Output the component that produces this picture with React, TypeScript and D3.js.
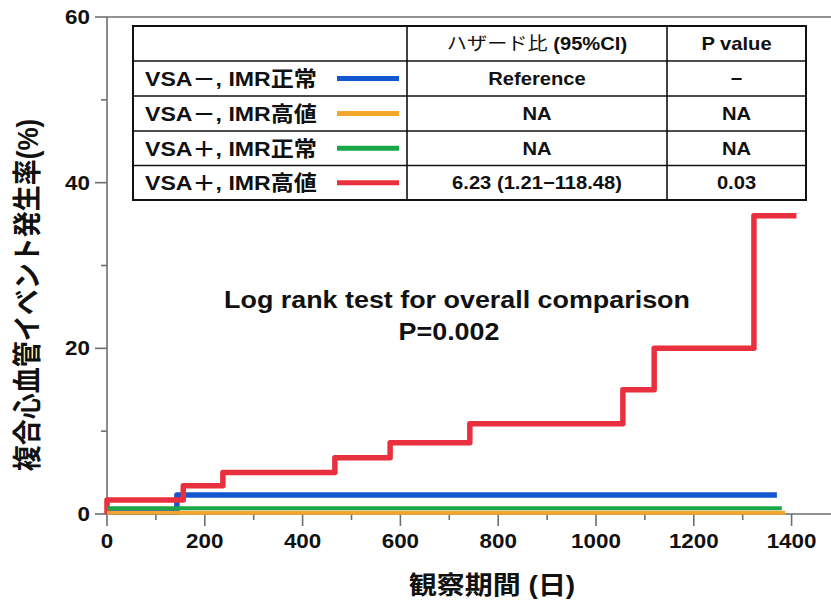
import React from "react";
import * as d3 from "d3";

const xTicks = [0, 200, 400, 600, 800, 1000, 1200, 1400];
const xMinor = [100, 300, 500, 700, 900, 1100, 1300];
const yTicks = [0, 20, 40, 60];
const yMinor = [10, 30, 50];

const redTimes = [0, 0, 156, 237, 466, 579, 742, 1055, 1119, 1323, 1410];
const redValues = [0, 1.7, 3.4, 5.0, 6.8, 8.6, 10.9, 15.0, 20.0, 36.0, 36.0];
const blueTimes = [0, 143, 1370];
const blueValues = [0.2, 2.3, 2.3];
const greenTimes = [0, 1380];
const greenValues = [0.7, 0.7];
const orangeTimes = [0, 1387];
const orangeValues = [0.15, 0.15];

const groupLabels = ["VSA－, IMR正常", "VSA－, IMR高値", "VSA＋, IMR正常", "VSA＋, IMR高値"];
const groupColors = ["#1257D0", "#F2A62C", "#1BA648", "#E8303F"];
const hazardRatios = ["Reference", "NA", "NA", "6.23 (1.21−118.48)"];
const pValues = ["−", "NA", "NA", "0.03"];

const FONT = "'Liberation Sans', Arial, 'Noto Sans CJK JP', sans-serif";
const SX = 1.12;

function T({ x, y, anchor = "middle", size = 20, weight = 700, children, sx = SX }: any) {
  return (
    <g transform={`translate(${x},${y}) scale(${sx},1)`}>
      <text textAnchor={anchor} fontSize={size} fontWeight={weight} fontFamily={FONT} fill="#111">
        {children}
      </text>
    </g>
  );
}

export default function App() {
  const W = 831, H = 601;
  const x = d3.scaleLinear().domain([0, 1480]).range([107, 830.7]);
  const y = d3.scaleLinear().domain([0, 60]).range([514, 17]);
  const line = d3
    .line<[number, number]>()
    .x((d) => x(d[0]))
    .y((d) => y(d[1]))
    .curve(d3.curveStepAfter);
  const mk = (t: number[], v: number[]) => line(t.map((ti, i) => [ti, v[i]] as [number, number])) || "";

  const series = [
    { t: blueTimes, v: blueValues, c: groupColors[0], w: 5.5 },
    { t: redTimes, v: redValues, c: groupColors[3], w: 5.5 },
    { t: greenTimes, v: greenValues, c: groupColors[2], w: 4 },
    { t: orangeTimes, v: orangeValues, c: groupColors[1], w: 4 },
  ];

  const tL = 133, tR = 806, tT = 26, tB = 200;
  const colX = [tL, 407, 667, tR];
  const rowY = [26, 61, 96, 131, 165.5, 200];
  const axisColor = "#6e6e6e";

  return (
    <svg width={W} height={H} style={{ position: "absolute", left: 0, top: 0, background: "#fff" }}>
      <rect width={W} height={H} fill="#fff" />
      <line x1={107} x2={831} y1={514} y2={514} stroke={axisColor} strokeWidth={1.6} />
      <line x1={107} x2={107} y1={17} y2={514} stroke={axisColor} strokeWidth={1.6} />
      <line x1={107} x2={831} y1={17} y2={17} stroke={axisColor} strokeWidth={1.6} />
      {xTicks.map((t) => (
        <g key={"xt" + t}>
          <line x1={x(t)} x2={x(t)} y1={514} y2={526} stroke={axisColor} strokeWidth={1.6} />
          <T x={x(t)} y={548} size={20}>{t}</T>
        </g>
      ))}
      {xMinor.map((t) => (
        <line key={"xm" + t} x1={x(t)} x2={x(t)} y1={514} y2={520} stroke={axisColor} strokeWidth={1.6} />
      ))}
      {yTicks.map((t) => (
        <g key={"yt" + t}>
          <line x1={95} x2={107} y1={y(t)} y2={y(t)} stroke={axisColor} strokeWidth={1.6} />
          <T x={90} y={y(t) + 7} size={20} anchor="end">{t}</T>
        </g>
      ))}
      {yMinor.map((t) => (
        <line key={"ym" + t} x1={101} x2={107} y1={y(t)} y2={y(t)} stroke={axisColor} strokeWidth={1.6} />
      ))}

      {series.map((s, i) => (
        <path key={i} d={mk(s.t, s.v)} fill="none" stroke={s.c} strokeWidth={s.w} strokeLinejoin="round" />
      ))}

      <T x={492} y={594} size={25}>観察期間 (日)</T>
      <g transform={`translate(38,295) rotate(-90) scale(1,${SX})`}>
        <text textAnchor="middle" fontSize={26} fontWeight={700} fontFamily={FONT} fill="#111">
          複合心血管イベント発生率(%)
        </text>
      </g>

      <T x={457} y={308} size={24}>Log rank test for overall comparison</T>
      <T x={449} y={340} size={24}>P=0.002</T>

      <rect x={tL} y={tT} width={tR - tL} height={tB - tT} fill="#fff" stroke="#111" strokeWidth={2} />
      {rowY.slice(1, -1).map((ry, i) => (
        <line key={"r" + i} x1={tL} x2={tR} y1={ry} y2={ry} stroke="#111" strokeWidth={1.6} />
      ))}
      {colX.slice(1, -1).map((cx, i) => (
        <line key={"c" + i} x1={cx} x2={cx} y1={tT} y2={tB} stroke="#111" strokeWidth={1.6} />
      ))}
      <T x={(colX[1] + colX[2]) / 2} y={50} size={18} weight={700}>
        <tspan fontWeight={400}>ハザード比</tspan> (95%CI)
      </T>
      <T x={(colX[2] + colX[3]) / 2} y={50} size={18}>P value</T>
      {groupLabels.map((g, i) => {
        const cy = (rowY[i + 1] + rowY[i + 2]) / 2;
        return (
          <g key={"g" + i}>
            <T x={145} y={cy + 7.5} size={21} anchor="start" sx={1.1}>{g}</T>
            <line x1={337} x2={399} y1={cy} y2={cy} stroke={groupColors[i]} strokeWidth={5} />
            <T x={(colX[1] + colX[2]) / 2} y={cy + 6.5} size={18}>{hazardRatios[i]}</T>
            <T x={(colX[2] + colX[3]) / 2} y={cy + 6.5} size={18}>{pValues[i]}</T>
          </g>
        );
      })}
    </svg>
  );
}
